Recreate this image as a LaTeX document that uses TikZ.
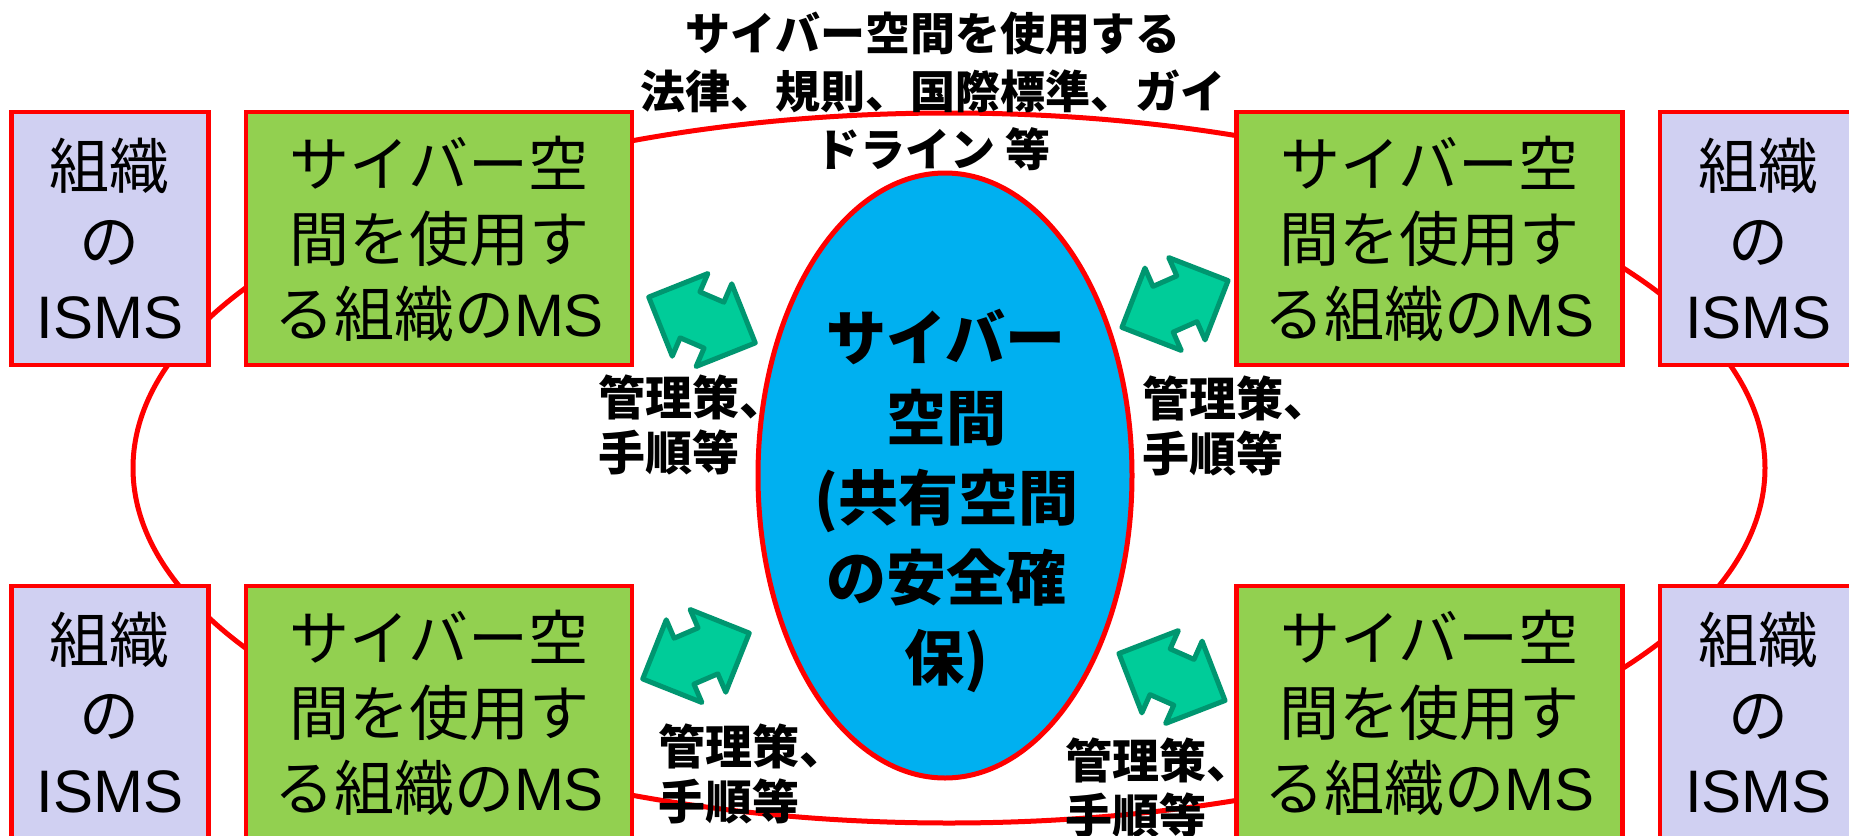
\documentclass[tikz,border=0pt]{standalone}
\usepackage{fontspec}
\setmainfont{Noto Sans CJK JP}
\newfontfamily\lat{Liberation Sans}
\usetikzlibrary{shapes.geometric}
\definecolor{boxred}{RGB}{255,0,0}
\definecolor{lav}{RGB}{208,208,242}
\definecolor{msgreen}{RGB}{146,208,80}
\definecolor{sky}{RGB}{0,176,240}
\definecolor{arrfill}{RGB}{0,204,153}
\definecolor{arrline}{RGB}{0,150,112}
\tikzset{
  boxtext/.style={font=\fontsize{30}{37.5}\selectfont, align=center, inner sep=0pt},
  isms/.style={boxtext, draw=boxred, line width=2.25pt, fill=lav, minimum width=98.5pt, minimum height=126.5pt},
  msbox/.style={boxtext, draw=boxred, line width=2.25pt, fill=msgreen, minimum width=193pt, minimum height=126.5pt},
  lbl/.style={font=\bfseries\fontsize{23.5}{27.5}\selectfont, align=left, inner sep=0pt, anchor=west},
  dblarrow/.pic={\draw[line width=2.5pt, draw=arrline, fill=arrfill, line join=round]
     (-58,0) -- (-13,-45) -- (-13,-25) -- (13,-25) -- (13,-45) -- (58,0)
     -- (13,45) -- (13,25) -- (-13,25) -- (-13,45) -- cycle;}
}
\begin{document}
\begin{tikzpicture}[x=0.5pt,y=-0.5pt]
\useasboundingbox (0,0) rectangle (1849,836);
\fill[white] (0,0) rectangle (1849,836);
\clip (0,0) rectangle (1849,836);
% outer loop
\node[ellipse, draw=boxred, line width=2.5pt, minimum width=816pt, minimum height=355pt, inner sep=0pt] (loop) at (949,468) {};
% boxes
\node[isms]  (isTL) at (110,238.5)   {組織\\の\\{\lat ISMS}};
\node[msbox] (msTL) at (439,238.5)   {サイバー空\\間を使用す\\る組織の{\lat MS}};
\node[msbox] (msTR) at (1429.5,238.5){サイバー空\\間を使用す\\る組織の{\lat MS}};
\node[isms]  (isTR) at (1758.5,238.5){組織\\の\\{\lat ISMS}};
\node[isms]  (isBL) at (110,712.5)   {組織\\の\\{\lat ISMS}};
\node[msbox] (msBL) at (439,712.5)   {サイバー空\\間を使用す\\る組織の{\lat MS}};
\node[msbox] (msBR) at (1429.5,712.5){サイバー空\\間を使用す\\る組織の{\lat MS}};
\node[isms]  (isBR) at (1758.5,712.5){組織\\の\\{\lat ISMS}};
% central ellipse
\node[ellipse, draw=boxred, fill=sky, line width=2.5pt, minimum width=187pt, minimum height=302.5pt, inner sep=0pt] (space) at (945,475.5) {};
\node[font=\bfseries\fontsize{30}{40}\selectfont, align=center, inner sep=0pt] (spacetext) at (946,501)
  {サイバー\\空間\\(共有空間\\の安全確\\保)};
% arrows
\pic[rotate=-23.3] (arTL) at (702,320) {dblarrow};
\pic[rotate=23.8]  (arTR) at (1175,304) {dblarrow};
\pic[rotate=23.3]  (arBL) at (696,656) {dblarrow};
\pic[rotate=-23.9] (arBR) at (1172,677) {dblarrow};
% labels
\node[font=\bfseries\fontsize{22.5}{29}\selectfont, align=center, inner sep=0pt] (law) at (933,91.5)
  {サイバー空間を使用する\\法律、規則、国際標準、ガイ\\ドライン 等};
\node[lbl] (lTL) at (598,424.5)  {管理策、\\手順等};
\node[lbl] (lTR) at (1142,426)   {管理策、\\手順等};
\node[lbl] (lBL) at (658,774)    {管理策、\\手順等};
\node[lbl] (lBR) at (1065,787.5) {管理策、\\手順等};
\end{tikzpicture}
\end{document}
